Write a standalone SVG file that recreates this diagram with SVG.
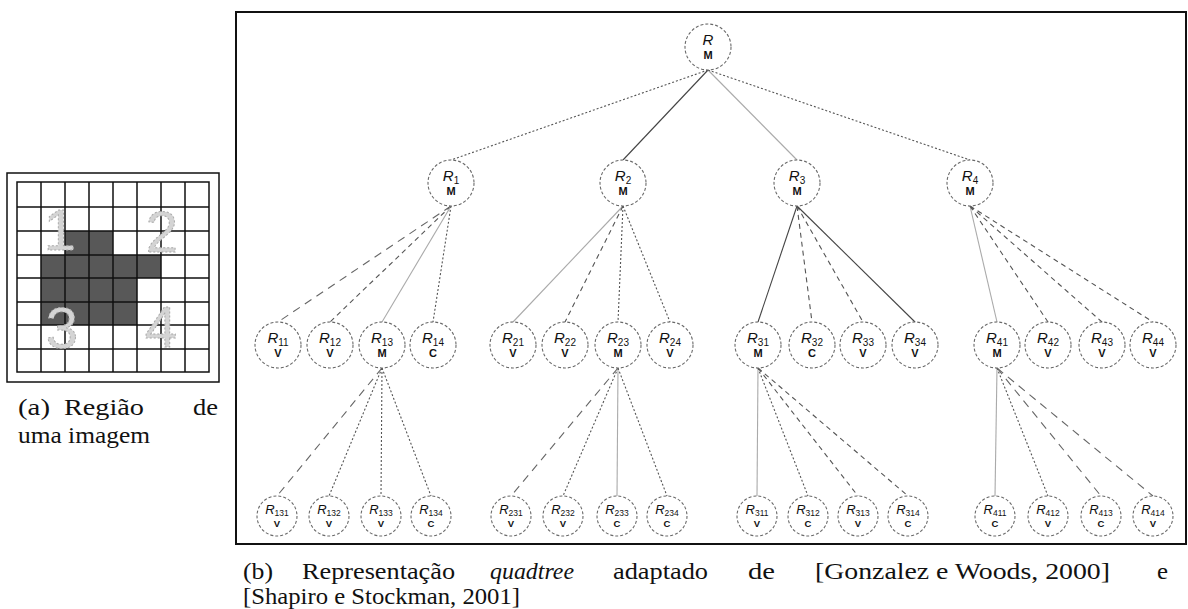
<svg xmlns="http://www.w3.org/2000/svg" width="1188" height="609" viewBox="0 0 1188 609">
<style>
.node{fill:#fff;stroke:#6a6a6a;stroke-width:1.1;stroke-dasharray:3 2}
.lbl{font-family:"Liberation Sans",Arial,sans-serif;fill:#111;text-anchor:middle}
.r1{font-size:15px;font-style:italic}
.s1{font-size:10px;font-style:normal}
.v1{font-size:11px;font-weight:bold}
.r3{font-size:13px;font-style:italic}
.s3{font-size:8.5px;font-style:normal}
.v3{font-size:9.5px;font-weight:bold}
.cap{font-family:"Liberation Serif","Times New Roman",serif;font-size:24px;fill:#111}
.cn{fill:none;stroke-width:1.1}
.solid{stroke:#444}
.light{stroke:#aaa}
.dot{stroke:#555;stroke-dasharray:2 2}
.dash{stroke:#555;stroke-dasharray:5 4}
.long{stroke:#666;stroke-dasharray:8 6}
.grid{stroke:#111;stroke-width:1.5;fill:none}
.dig{font-family:"Liberation Sans",Arial,sans-serif;font-size:58px;fill:#d4d4d4;stroke:#aaa;stroke-width:1;stroke-dasharray:2 2;text-anchor:middle}
</style>

<!-- (a) image region -->
<g id="image-a">
  <rect x="7" y="173" width="212" height="209" fill="#fff" stroke="#111" stroke-width="1.5"/>
  <g fill="#585858">
    <rect x="65" y="231" width="48" height="24"/>
    <rect x="41" y="255" width="120" height="23"/>
    <rect x="41" y="278" width="96" height="47"/>
  </g>
  <g class="grid">
    <rect x="17" y="182" width="192" height="190"/>
    <path d="M41 182V372M65 182V372M89 182V372M113 182V372M137 182V372M161 182V372M185 182V372"/>
    <path d="M17 207H209M17 231H209M17 255H209M17 278H209M17 302H209M17 325H209M17 349H209"/>
  </g>
  <text class="dig" x="60" y="250">1</text>
  <text class="dig" x="162" y="252">2</text>
  <text class="dig" x="62" y="348">3</text>
  <text class="dig" x="161" y="347">4</text>
</g>
<g id="caption-a" class="cap">
  <text x="18" y="415" textLength="32" lengthAdjust="spacingAndGlyphs">(a)</text>
  <text x="64" y="415" textLength="80" lengthAdjust="spacingAndGlyphs">Região</text>
  <text x="193" y="415" textLength="25" lengthAdjust="spacingAndGlyphs">de</text>
  <text x="18" y="443" textLength="132" lengthAdjust="spacingAndGlyphs">uma imagem</text>
</g>

<!-- frame -->
<rect id="frame" x="236" y="12" width="950" height="532" fill="none" stroke="#111" stroke-width="2"/>

<!-- connectors -->
<g id="connectors">
  <path class="cn dot" d="M708 70L451 160"/>
  <path class="cn solid" d="M708 70L623 160"/>
  <path class="cn light" d="M708 70L797 160"/>
  <path class="cn dot" d="M708 70L970 160"/>

  <path class="cn long" d="M451 206L278 322"/>
  <path class="cn dash" d="M451 206L330 322"/>
  <path class="cn light" d="M451 206L382 322"/>
  <path class="cn dot" d="M451 206L433 322"/>

  <path class="cn light" d="M623 206L513 322"/>
  <path class="cn dash" d="M623 206L565 322"/>
  <path class="cn dot" d="M623 206L618 322"/>
  <path class="cn dot" d="M623 206L670 322"/>

  <path class="cn solid" d="M797 206L758 322"/>
  <path class="cn dash" d="M797 206L812 322"/>
  <path class="cn dash" d="M797 206L863 322"/>
  <path class="cn solid" d="M797 206L915 322"/>

  <path class="cn light" d="M970 206L997 322"/>
  <path class="cn dash" d="M970 206L1048 322"/>
  <path class="cn dash" d="M970 206L1102 322"/>
  <path class="cn dash" d="M970 206L1153 322"/>

  <path class="cn long" d="M382 368L277 496"/>
  <path class="cn dot" d="M382 368L329 496"/>
  <path class="cn dot" d="M382 368L381 496"/>
  <path class="cn dot" d="M382 368L431 496"/>

  <path class="cn long" d="M618 368L511 496"/>
  <path class="cn dot" d="M618 368L563 496"/>
  <path class="cn light" d="M618 368L617 496"/>
  <path class="cn dot" d="M618 368L667 496"/>

  <path class="cn light" d="M758 368L757 496"/>
  <path class="cn dot" d="M758 368L808 496"/>
  <path class="cn dash" d="M758 368L858 496"/>
  <path class="cn dash" d="M758 368L908 496"/>

  <path class="cn light" d="M997 368L995 496"/>
  <path class="cn dot" d="M997 368L1048 496"/>
  <path class="cn long" d="M997 368L1101 496"/>
  <path class="cn long" d="M997 368L1153 496"/>
</g>

<!-- root -->
<g id="n-R"><circle class="node" cx="708" cy="47" r="23"/>
  <text class="lbl r1" x="708" y="45">R</text><text class="lbl v1" x="708" y="59">M</text></g>

<!-- level 1 -->
<g id="n-R1"><circle class="node" cx="451" cy="183" r="23"/>
  <text class="lbl r1" x="451" y="181">R<tspan class="s1" dy="3">1</tspan></text><text class="lbl v1" x="451" y="195">M</text></g>
<g id="n-R2"><circle class="node" cx="623" cy="183" r="23"/>
  <text class="lbl r1" x="623" y="181">R<tspan class="s1" dy="3">2</tspan></text><text class="lbl v1" x="623" y="195">M</text></g>
<g id="n-R3"><circle class="node" cx="797" cy="183" r="23"/>
  <text class="lbl r1" x="797" y="181">R<tspan class="s1" dy="3">3</tspan></text><text class="lbl v1" x="797" y="195">M</text></g>
<g id="n-R4"><circle class="node" cx="970" cy="183" r="23"/>
  <text class="lbl r1" x="970" y="181">R<tspan class="s1" dy="3">4</tspan></text><text class="lbl v1" x="970" y="195">M</text></g>

<!-- level 2 -->
<g id="n-R11"><circle class="node" cx="278" cy="345" r="23"/><text class="lbl r1" x="278" y="343">R<tspan class="s1" dy="3">11</tspan></text><text class="lbl v1" x="278" y="357">V</text></g>
<g id="n-R12"><circle class="node" cx="330" cy="345" r="23"/><text class="lbl r1" x="330" y="343">R<tspan class="s1" dy="3">12</tspan></text><text class="lbl v1" x="330" y="357">V</text></g>
<g id="n-R13"><circle class="node" cx="382" cy="345" r="23"/><text class="lbl r1" x="382" y="343">R<tspan class="s1" dy="3">13</tspan></text><text class="lbl v1" x="382" y="357">M</text></g>
<g id="n-R14"><circle class="node" cx="433" cy="345" r="23"/><text class="lbl r1" x="433" y="343">R<tspan class="s1" dy="3">14</tspan></text><text class="lbl v1" x="433" y="357">C</text></g>

<g id="n-R21"><circle class="node" cx="513" cy="345" r="23"/><text class="lbl r1" x="513" y="343">R<tspan class="s1" dy="3">21</tspan></text><text class="lbl v1" x="513" y="357">V</text></g>
<g id="n-R22"><circle class="node" cx="565" cy="345" r="23"/><text class="lbl r1" x="565" y="343">R<tspan class="s1" dy="3">22</tspan></text><text class="lbl v1" x="565" y="357">V</text></g>
<g id="n-R23"><circle class="node" cx="618" cy="345" r="23"/><text class="lbl r1" x="618" y="343">R<tspan class="s1" dy="3">23</tspan></text><text class="lbl v1" x="618" y="357">M</text></g>
<g id="n-R24"><circle class="node" cx="670" cy="345" r="23"/><text class="lbl r1" x="670" y="343">R<tspan class="s1" dy="3">24</tspan></text><text class="lbl v1" x="670" y="357">V</text></g>

<g id="n-R31"><circle class="node" cx="758" cy="345" r="23"/><text class="lbl r1" x="758" y="343">R<tspan class="s1" dy="3">31</tspan></text><text class="lbl v1" x="758" y="357">M</text></g>
<g id="n-R32"><circle class="node" cx="812" cy="345" r="23"/><text class="lbl r1" x="812" y="343">R<tspan class="s1" dy="3">32</tspan></text><text class="lbl v1" x="812" y="357">C</text></g>
<g id="n-R33"><circle class="node" cx="863" cy="345" r="23"/><text class="lbl r1" x="863" y="343">R<tspan class="s1" dy="3">33</tspan></text><text class="lbl v1" x="863" y="357">V</text></g>
<g id="n-R34"><circle class="node" cx="915" cy="345" r="23"/><text class="lbl r1" x="915" y="343">R<tspan class="s1" dy="3">34</tspan></text><text class="lbl v1" x="915" y="357">V</text></g>

<g id="n-R41"><circle class="node" cx="997" cy="345" r="23"/><text class="lbl r1" x="997" y="343">R<tspan class="s1" dy="3">41</tspan></text><text class="lbl v1" x="997" y="357">M</text></g>
<g id="n-R42"><circle class="node" cx="1048" cy="345" r="23"/><text class="lbl r1" x="1048" y="343">R<tspan class="s1" dy="3">42</tspan></text><text class="lbl v1" x="1048" y="357">V</text></g>
<g id="n-R43"><circle class="node" cx="1102" cy="345" r="23"/><text class="lbl r1" x="1102" y="343">R<tspan class="s1" dy="3">43</tspan></text><text class="lbl v1" x="1102" y="357">V</text></g>
<g id="n-R44"><circle class="node" cx="1153" cy="345" r="23"/><text class="lbl r1" x="1153" y="343">R<tspan class="s1" dy="3">44</tspan></text><text class="lbl v1" x="1153" y="357">V</text></g>

<!-- level 3 -->
<g id="n-R131"><circle class="node" cx="277" cy="516" r="20"/><text class="lbl r3" x="277" y="514">R<tspan class="s3" dy="2">131</tspan></text><text class="lbl v3" x="277" y="527">V</text></g>
<g id="n-R132"><circle class="node" cx="329" cy="516" r="20"/><text class="lbl r3" x="329" y="514">R<tspan class="s3" dy="2">132</tspan></text><text class="lbl v3" x="329" y="527">V</text></g>
<g id="n-R133"><circle class="node" cx="381" cy="516" r="20"/><text class="lbl r3" x="381" y="514">R<tspan class="s3" dy="2">133</tspan></text><text class="lbl v3" x="381" y="527">V</text></g>
<g id="n-R134"><circle class="node" cx="431" cy="516" r="20"/><text class="lbl r3" x="431" y="514">R<tspan class="s3" dy="2">134</tspan></text><text class="lbl v3" x="431" y="527">C</text></g>

<g id="n-R231"><circle class="node" cx="511" cy="516" r="20"/><text class="lbl r3" x="511" y="514">R<tspan class="s3" dy="2">231</tspan></text><text class="lbl v3" x="511" y="527">V</text></g>
<g id="n-R232"><circle class="node" cx="563" cy="516" r="20"/><text class="lbl r3" x="563" y="514">R<tspan class="s3" dy="2">232</tspan></text><text class="lbl v3" x="563" y="527">V</text></g>
<g id="n-R233"><circle class="node" cx="617" cy="516" r="20"/><text class="lbl r3" x="617" y="514">R<tspan class="s3" dy="2">233</tspan></text><text class="lbl v3" x="617" y="527">C</text></g>
<g id="n-R234"><circle class="node" cx="667" cy="516" r="20"/><text class="lbl r3" x="667" y="514">R<tspan class="s3" dy="2">234</tspan></text><text class="lbl v3" x="667" y="527">C</text></g>

<g id="n-R311"><circle class="node" cx="757" cy="516" r="20"/><text class="lbl r3" x="757" y="514">R<tspan class="s3" dy="2">311</tspan></text><text class="lbl v3" x="757" y="527">V</text></g>
<g id="n-R312"><circle class="node" cx="808" cy="516" r="20"/><text class="lbl r3" x="808" y="514">R<tspan class="s3" dy="2">312</tspan></text><text class="lbl v3" x="808" y="527">C</text></g>
<g id="n-R313"><circle class="node" cx="858" cy="516" r="20"/><text class="lbl r3" x="858" y="514">R<tspan class="s3" dy="2">313</tspan></text><text class="lbl v3" x="858" y="527">V</text></g>
<g id="n-R314"><circle class="node" cx="908" cy="516" r="20"/><text class="lbl r3" x="908" y="514">R<tspan class="s3" dy="2">314</tspan></text><text class="lbl v3" x="908" y="527">C</text></g>

<g id="n-R411"><circle class="node" cx="995" cy="516" r="20"/><text class="lbl r3" x="995" y="514">R<tspan class="s3" dy="2">411</tspan></text><text class="lbl v3" x="995" y="527">C</text></g>
<g id="n-R412"><circle class="node" cx="1048" cy="516" r="20"/><text class="lbl r3" x="1048" y="514">R<tspan class="s3" dy="2">412</tspan></text><text class="lbl v3" x="1048" y="527">V</text></g>
<g id="n-R413"><circle class="node" cx="1101" cy="516" r="20"/><text class="lbl r3" x="1101" y="514">R<tspan class="s3" dy="2">413</tspan></text><text class="lbl v3" x="1101" y="527">C</text></g>
<g id="n-R414"><circle class="node" cx="1153" cy="516" r="20"/><text class="lbl r3" x="1153" y="514">R<tspan class="s3" dy="2">414</tspan></text><text class="lbl v3" x="1153" y="527">V</text></g>

<!-- caption (b) -->
<g id="caption-b" class="cap">
  <text x="243" y="579" textLength="30" lengthAdjust="spacingAndGlyphs">(b)</text>
  <text x="302" y="579" textLength="153" lengthAdjust="spacingAndGlyphs">Representação</text>
  <text x="490" y="579" font-style="italic" textLength="84" lengthAdjust="spacingAndGlyphs">quadtree</text>
  <text x="613" y="579" textLength="95" lengthAdjust="spacingAndGlyphs">adaptado</text>
  <text x="748" y="579" textLength="27" lengthAdjust="spacingAndGlyphs">de</text>
  <text x="815" y="579" textLength="295" lengthAdjust="spacingAndGlyphs">[Gonzalez e Woods, 2000]</text>
  <text x="1157" y="579" textLength="11" lengthAdjust="spacingAndGlyphs">e</text>
  <text x="243" y="604" textLength="277" lengthAdjust="spacingAndGlyphs">[Shapiro e Stockman, 2001]</text>
</g>
</svg>
